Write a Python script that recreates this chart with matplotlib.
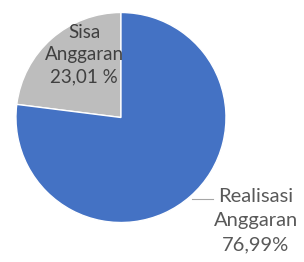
import matplotlib.pyplot as plt

# data
labels = ["Sisa\nAnggaran\n23,01 %", "Realisasi\nAnggaran\n76,99%"]
values = [23.01, 76.99]
colors = ["#BDBDBD", "#4472C4"]

plt.rcParams['font.family'] = ['Lato', 'DejaVu Sans']

fig = plt.figure(figsize=(3.04, 2.62), dpi=100)
ax = fig.add_axes([0, 0, 1, 1])

wedges, _ = ax.pie(values, colors=colors, startangle=90, radius=1.0,
                   wedgeprops=dict(edgecolor="white", linewidth=1))

# label inside the grey slice
ax.text(-0.35, 0.60, labels[0], ha="center", va="center", fontsize=13.5,
        color="#404040", linespacing=1.38)
# label outside, with a short leader line
ax.text(1.285, -0.985, labels[1], ha="center", va="center", fontsize=14.5,
        color="#595959", linespacing=1.5)
ax.plot([0.68, 0.88], [-0.775, -0.775], color="#A6A6A6", linewidth=0.8)

ax.set_xlim(-1.152, 1.743)
ax.set_ylim(-1.376, 1.119)
ax.set_aspect("equal")
ax.axis("off")

fig.savefig("out.png", dpi=100)
